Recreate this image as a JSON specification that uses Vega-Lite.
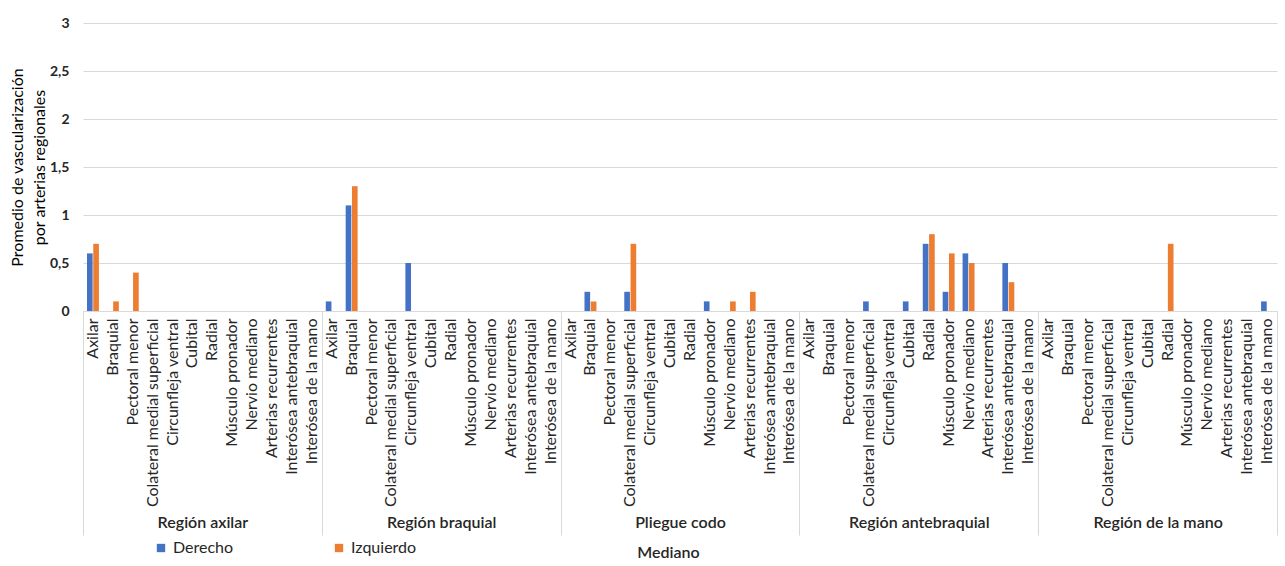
{
  "$schema": "https://vega.github.io/schema/vega-lite/v6.json",
  "width": 1194,
  "height": 288,
  "autosize": {"type": "none"},
  "padding": {"left": 83, "top": 23, "right": 8, "bottom": 255},
  "background": "white",
  "config": {"font": "Lato", "view": {"stroke": null}},
  "data": {
    "values": [
      {"region": "Región axilar", "arteria": "Axilar", "Derecho": 0.6, "Izquierdo": 0.7},
      {"region": "Región axilar", "arteria": "Braquial", "Derecho": 0, "Izquierdo": 0.1},
      {"region": "Región axilar", "arteria": "Pectoral menor", "Derecho": 0, "Izquierdo": 0.4},
      {"region": "Región axilar", "arteria": "Colateral medial superficial", "Derecho": 0, "Izquierdo": 0},
      {"region": "Región axilar", "arteria": "Circunfleja ventral", "Derecho": 0, "Izquierdo": 0},
      {"region": "Región axilar", "arteria": "Cubital", "Derecho": 0, "Izquierdo": 0},
      {"region": "Región axilar", "arteria": "Radial", "Derecho": 0, "Izquierdo": 0},
      {"region": "Región axilar", "arteria": "Músculo pronador", "Derecho": 0, "Izquierdo": 0},
      {"region": "Región axilar", "arteria": "Nervio mediano", "Derecho": 0, "Izquierdo": 0},
      {"region": "Región axilar", "arteria": "Arterias recurrentes", "Derecho": 0, "Izquierdo": 0},
      {"region": "Región axilar", "arteria": "Interósea antebraquial", "Derecho": 0, "Izquierdo": 0},
      {"region": "Región axilar", "arteria": "Interósea de la mano", "Derecho": 0, "Izquierdo": 0},
      {"region": "Región braquial", "arteria": "Axilar", "Derecho": 0.1, "Izquierdo": 0},
      {"region": "Región braquial", "arteria": "Braquial", "Derecho": 1.1, "Izquierdo": 1.3},
      {"region": "Región braquial", "arteria": "Pectoral menor", "Derecho": 0, "Izquierdo": 0},
      {"region": "Región braquial", "arteria": "Colateral medial superficial", "Derecho": 0, "Izquierdo": 0},
      {"region": "Región braquial", "arteria": "Circunfleja ventral", "Derecho": 0.5, "Izquierdo": 0},
      {"region": "Región braquial", "arteria": "Cubital", "Derecho": 0, "Izquierdo": 0},
      {"region": "Región braquial", "arteria": "Radial", "Derecho": 0, "Izquierdo": 0},
      {"region": "Región braquial", "arteria": "Músculo pronador", "Derecho": 0, "Izquierdo": 0},
      {"region": "Región braquial", "arteria": "Nervio mediano", "Derecho": 0, "Izquierdo": 0},
      {"region": "Región braquial", "arteria": "Arterias recurrentes", "Derecho": 0, "Izquierdo": 0},
      {"region": "Región braquial", "arteria": "Interósea antebraquial", "Derecho": 0, "Izquierdo": 0},
      {"region": "Región braquial", "arteria": "Interósea de la mano", "Derecho": 0, "Izquierdo": 0},
      {"region": "Pliegue codo", "arteria": "Axilar", "Derecho": 0, "Izquierdo": 0},
      {"region": "Pliegue codo", "arteria": "Braquial", "Derecho": 0.2, "Izquierdo": 0.1},
      {"region": "Pliegue codo", "arteria": "Pectoral menor", "Derecho": 0, "Izquierdo": 0},
      {"region": "Pliegue codo", "arteria": "Colateral medial superficial", "Derecho": 0.2, "Izquierdo": 0.7},
      {"region": "Pliegue codo", "arteria": "Circunfleja ventral", "Derecho": 0, "Izquierdo": 0},
      {"region": "Pliegue codo", "arteria": "Cubital", "Derecho": 0, "Izquierdo": 0},
      {"region": "Pliegue codo", "arteria": "Radial", "Derecho": 0, "Izquierdo": 0},
      {"region": "Pliegue codo", "arteria": "Músculo pronador", "Derecho": 0.1, "Izquierdo": 0},
      {"region": "Pliegue codo", "arteria": "Nervio mediano", "Derecho": 0, "Izquierdo": 0.1},
      {"region": "Pliegue codo", "arteria": "Arterias recurrentes", "Derecho": 0, "Izquierdo": 0.2},
      {"region": "Pliegue codo", "arteria": "Interósea antebraquial", "Derecho": 0, "Izquierdo": 0},
      {"region": "Pliegue codo", "arteria": "Interósea de la mano", "Derecho": 0, "Izquierdo": 0},
      {"region": "Región antebraquial", "arteria": "Axilar", "Derecho": 0, "Izquierdo": 0},
      {"region": "Región antebraquial", "arteria": "Braquial", "Derecho": 0, "Izquierdo": 0},
      {"region": "Región antebraquial", "arteria": "Pectoral menor", "Derecho": 0, "Izquierdo": 0},
      {"region": "Región antebraquial", "arteria": "Colateral medial superficial", "Derecho": 0.1, "Izquierdo": 0},
      {"region": "Región antebraquial", "arteria": "Circunfleja ventral", "Derecho": 0, "Izquierdo": 0},
      {"region": "Región antebraquial", "arteria": "Cubital", "Derecho": 0.1, "Izquierdo": 0},
      {"region": "Región antebraquial", "arteria": "Radial", "Derecho": 0.7, "Izquierdo": 0.8},
      {"region": "Región antebraquial", "arteria": "Músculo pronador", "Derecho": 0.2, "Izquierdo": 0.6},
      {"region": "Región antebraquial", "arteria": "Nervio mediano", "Derecho": 0.6, "Izquierdo": 0.5},
      {"region": "Región antebraquial", "arteria": "Arterias recurrentes", "Derecho": 0, "Izquierdo": 0},
      {"region": "Región antebraquial", "arteria": "Interósea antebraquial", "Derecho": 0.5, "Izquierdo": 0.3},
      {"region": "Región antebraquial", "arteria": "Interósea de la mano", "Derecho": 0, "Izquierdo": 0},
      {"region": "Región de la mano", "arteria": "Axilar", "Derecho": 0, "Izquierdo": 0},
      {"region": "Región de la mano", "arteria": "Braquial", "Derecho": 0, "Izquierdo": 0},
      {"region": "Región de la mano", "arteria": "Pectoral menor", "Derecho": 0, "Izquierdo": 0},
      {"region": "Región de la mano", "arteria": "Colateral medial superficial", "Derecho": 0, "Izquierdo": 0},
      {"region": "Región de la mano", "arteria": "Circunfleja ventral", "Derecho": 0, "Izquierdo": 0},
      {"region": "Región de la mano", "arteria": "Cubital", "Derecho": 0, "Izquierdo": 0},
      {"region": "Región de la mano", "arteria": "Radial", "Derecho": 0, "Izquierdo": 0.7},
      {"region": "Región de la mano", "arteria": "Músculo pronador", "Derecho": 0, "Izquierdo": 0},
      {"region": "Región de la mano", "arteria": "Nervio mediano", "Derecho": 0, "Izquierdo": 0},
      {"region": "Región de la mano", "arteria": "Arterias recurrentes", "Derecho": 0, "Izquierdo": 0},
      {"region": "Región de la mano", "arteria": "Interósea antebraquial", "Derecho": 0, "Izquierdo": 0},
      {"region": "Región de la mano", "arteria": "Interósea de la mano", "Derecho": 0.1, "Izquierdo": 0}
    ]
  },
  "transform": [
    {"fold": ["Derecho", "Izquierdo"], "as": ["lado", "valor"]},
    {"calculate": "datum.region + '|' + datum.arteria", "as": "clave"}
  ],
  "layer": [
    {
      "mark": {"type": "bar"},
      "encoding": {
        "x": {
          "field": "clave",
          "type": "nominal",
          "sort": null,
          "scale": {"paddingInner": 0.4, "paddingOuter": 0.2},
          "axis": {
            "orient": "bottom",
            "title": null,
            "labelExpr": "split(datum.value, '|')[1]",
            "labelAngle": -90,
            "labelFontSize": 16,
            "labelColor": "#262626",
            "labelPadding": 7,
            "labelLimit": 400,
            "ticks": false,
            "domainColor": "#d9d9d9",
            "grid": false
          }
        },
        "xOffset": {"field": "lado", "type": "nominal", "scale": {"paddingInner": 0.1}},
        "y": {
          "field": "valor",
          "type": "quantitative",
          "scale": {"domain": [0, 3]},
          "axis": {
            "title": ["Promedio de vascularización", "por arterias regionales"],
            "values": [0, 0.5, 1, 1.5, 2, 2.5, 3],
            "labelExpr": "replace(toString(datum.value), '.', ',')",
            "labelFontWeight": "bold",
            "labelFontSize": 14,
            "labelColor": "#262626",
            "labelPadding": 14,
            "domain": false,
            "ticks": false,
            "gridColor": "#d9d9d9",
            "titleFontSize": 16,
            "titleLineHeight": 22,
            "titleFontWeight": "normal",
            "titleColor": "#000000",
            "titlePadding": 2
          }
        },
        "color": {
          "field": "lado",
          "type": "nominal",
          "scale": {"domain": ["Derecho", "Izquierdo"], "range": ["#4472C4", "#ED7D31"]},
          "legend": {
            "orient": "none",
            "legendX": 70,
            "legendY": 517,
            "direction": "horizontal",
            "title": null,
            "symbolType": "square",
            "symbolSize": 70,
            "labelFontSize": 16,
            "labelColor": "#262626",
            "columnPadding": 97
          }
        }
      }
    },
    {
      "mark": {"type": "rule", "opacity": 0},
      "encoding": {
        "x": {
          "field": "region",
          "type": "nominal",
          "sort": null,
          "scale": {"paddingInner": 0, "paddingOuter": 0},
          "axis": {
            "orient": "bottom",
            "title": "Mediano",
            "titleFontSize": 16,
            "titleFontWeight": 600,
            "titleColor": "#262626",
            "titlePadding": 33,
            "titleX": 585,
            "ticks": true,
            "tickBand": "extent",
            "tickSize": 224,
            "tickColor": "#d9d9d9",
            "domain": false,
            "grid": false,
            "labelAngle": 0,
            "labelPadding": -21,
            "labelFontSize": 16,
            "labelFontWeight": 600,
            "labelColor": "#262626"
          }
        }
      }
    }
  ],
  "resolve": {"scale": {"x": "independent"}}
}
